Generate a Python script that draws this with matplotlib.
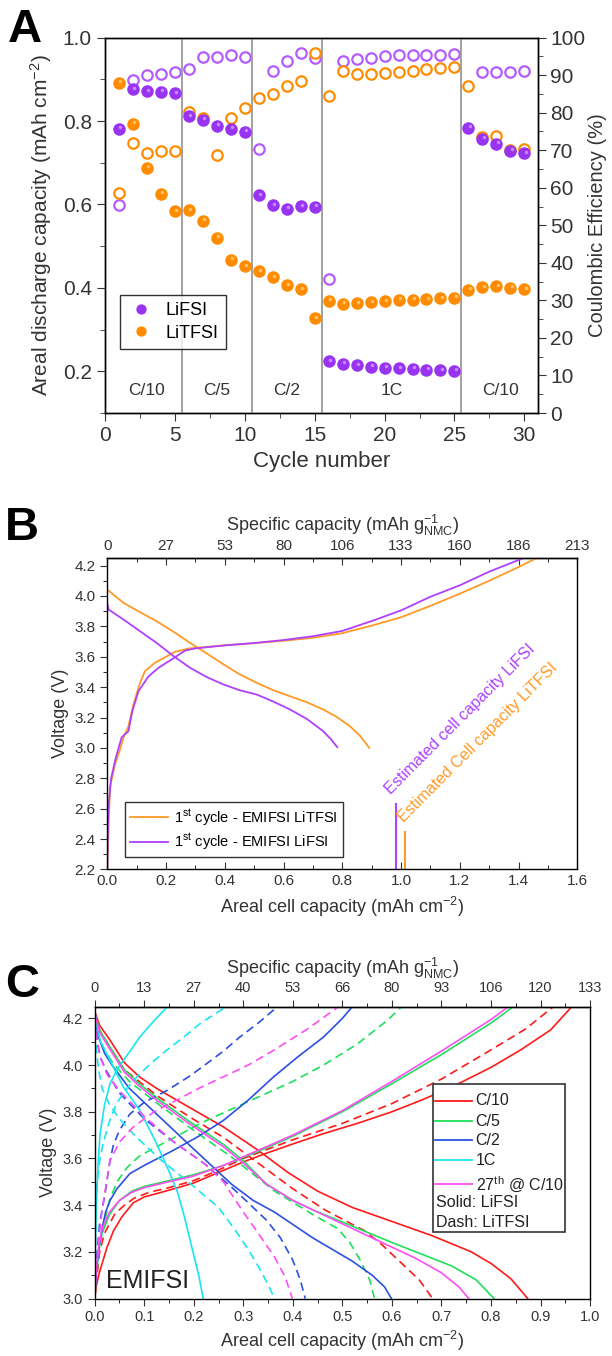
import numpy as np
import matplotlib
matplotlib.use('Agg')
import matplotlib.pyplot as plt
from matplotlib.patches import Rectangle
from matplotlib.ticker import MultipleLocator
from matplotlib.transforms import offset_copy

plt.rcParams['font.family'] = ['Liberation Sans', 'DejaVu Sans']
plt.rcParams['mathtext.fontset'] = 'custom'
plt.rcParams['mathtext.rm'] = 'Liberation Sans'
plt.rcParams['mathtext.it'] = 'Liberation Sans:italic'
plt.rcParams['mathtext.bf'] = 'Liberation Sans:bold'
plt.rcParams['axes.linewidth'] = 1.0

# ---------------- Panel A data (rate test) ----------------
cycles = list(range(1, 31))
lifsi_cap = [0.782, 0.876, 0.871, 0.870, 0.866, 0.811, 0.803, 0.789, 0.782, 0.774,
             0.622, 0.598, 0.590, 0.596, 0.594, 0.224, 0.218, 0.214, 0.211, 0.209,
             0.207, 0.206, 0.204, 0.202, 0.201, 0.784, 0.758, 0.745, 0.729, 0.723]
litfsi_cap = [0.892, 0.793, 0.688, 0.626, 0.584, 0.586, 0.561, 0.520, 0.467, 0.452,
              0.440, 0.425, 0.406, 0.397, 0.327, 0.369, 0.362, 0.363, 0.365, 0.368,
              0.371, 0.372, 0.373, 0.375, 0.376, 0.396, 0.401, 0.404, 0.400, 0.397]
lifsi_ce = [55.3, 88.7, 90.0, 90.3, 90.8, 91.5, 94.9, 94.8, 95.3, 94.9,
            70.3, 91.1, 93.7, 95.8, 94.5, 35.8, 93.7, 94.3, 94.5, 95.2,
            95.3, 95.3, 95.3, 95.3, 95.5, np.nan, 90.7, 90.9, 90.9, 91.0]
litfsi_ce = [58.5, 72.0, 69.2, 69.9, 69.8, 80.1, 78.5, 68.7, 78.6, 81.2,
             83.8, 85.0, 87.2, 88.3, 96.0, 84.5, 91.1, 90.2, 90.3, 90.5,
             90.7, 91.1, 91.5, 91.8, 92.1, 87.1, 73.4, 73.8, 70.0, 70.3]
rate_breaks = [5.5, 10.5, 15.5, 25.5]
rate_labels = ['C/10', 'C/5', 'C/2', '1C', 'C/10']
rate_label_x = [3.0, 8.0, 13.0, 20.5, 28.3]

# ---------------- Panel B data (1st cycle) ----------------
tfsi_ch_x = [0.0, 0.004, 0.009, 0.026, 0.045, 0.055, 0.072, 0.089, 0.11, 0.128, 0.162, 0.23, 0.276,
             0.4, 0.5, 0.6, 0.7, 0.8, 0.9, 1.0, 1.1, 1.2, 1.3, 1.4, 1.462]
tfsi_ch_v = [2.2, 2.45, 2.738, 2.89, 3.0, 3.067, 3.143, 3.286, 3.42, 3.505, 3.56, 3.632, 3.654,
             3.675, 3.69, 3.705, 3.725, 3.755, 3.805, 3.86, 3.935, 4.015, 4.10, 4.19, 4.25]
tfsi_dis_x = [0.0, 0.055, 0.11, 0.168, 0.225, 0.282, 0.34, 0.396, 0.45, 0.509, 0.565, 0.622,
              0.68, 0.735, 0.78, 0.826, 0.86, 0.892]
tfsi_dis_v = [4.042, 3.955, 3.895, 3.834, 3.765, 3.691, 3.62, 3.549, 3.485, 3.428, 3.38, 3.34,
              3.30, 3.253, 3.205, 3.143, 3.08, 3.0]
fsi_ch_x = [0.0, 0.003, 0.013, 0.029, 0.049, 0.072, 0.085, 0.106, 0.14, 0.174, 0.219, 0.265, 0.30,
            0.4, 0.5, 0.6, 0.7, 0.8, 0.9, 1.0, 1.1, 1.2, 1.3, 1.411]
fsi_ch_v = [2.2, 2.58, 2.80, 2.935, 3.07, 3.11, 3.24, 3.373, 3.47, 3.527, 3.582, 3.641, 3.655,
            3.675, 3.69, 3.71, 3.735, 3.77, 3.835, 3.905, 3.995, 4.07, 4.16, 4.245]
fsi_dis_x = [0.0, 0.005, 0.055, 0.11, 0.168, 0.225, 0.282, 0.34, 0.396, 0.45, 0.509, 0.565,
             0.622, 0.68, 0.735, 0.76, 0.783]
fsi_dis_v = [3.95, 3.91, 3.845, 3.77, 3.691, 3.605, 3.527, 3.465, 3.417, 3.38, 3.351, 3.305,
             3.253, 3.19, 3.11, 3.06, 3.005]
est_cap_fsi, est_top_fsi = 0.983, 2.64
est_cap_tfsi, est_top_tfsi = 1.013, 2.45
spec_labels_B = ['0', '27', '53', '80', '106', '133', '160', '186', '213']

# ---------------- Panel C data (rate curves, EMIFSI) ----------------
# C/10
c10_fsi_ch_x = [0.0, 0.003, 0.008, 0.015, 0.025, 0.038, 0.055, 0.078, 0.1, 0.126, 0.16, 0.2, 0.25, 0.3,
                0.35, 0.4, 0.46, 0.53, 0.6, 0.66, 0.72, 0.8, 0.86, 0.92, 0.963]
c10_fsi_ch_v = [3.0, 3.05, 3.1, 3.15, 3.22, 3.29, 3.35, 3.41, 3.435, 3.45, 3.47, 3.495, 3.54, 3.585,
                3.625, 3.662, 3.705, 3.75, 3.80, 3.85, 3.905, 3.99, 4.065, 4.15, 4.25]
c10_fsi_dis_x = [0.0, 0.01, 0.03, 0.06, 0.09, 0.125, 0.19, 0.26, 0.33, 0.39, 0.45, 0.52, 0.6, 0.68,
                 0.76, 0.8, 0.84, 0.874]
c10_fsi_dis_v = [4.23, 4.17, 4.11, 4.01, 3.95, 3.9, 3.82, 3.735, 3.635, 3.54, 3.46, 3.39, 3.33, 3.27,
                 3.2, 3.15, 3.085, 3.0]
c10_tfsi_ch_x = [0.0, 0.004, 0.01, 0.02, 0.04, 0.06, 0.08, 0.11, 0.15, 0.2, 0.25, 0.3, 0.4, 0.5, 0.6,
                 0.7, 0.8, 0.87, 0.926]
c10_tfsi_ch_v = [3.0, 3.08, 3.2, 3.28, 3.36, 3.4, 3.43, 3.455, 3.475, 3.505, 3.55, 3.6, 3.68, 3.75,
                 3.835, 3.94, 4.065, 4.155, 4.25]
c10_tfsi_dis_x = [0.0, 0.01, 0.03, 0.06, 0.125, 0.19, 0.26, 0.33, 0.4, 0.466, 0.5, 0.545, 0.58,
                  0.62, 0.655, 0.682]
c10_tfsi_dis_v = [4.22, 4.15, 4.08, 3.98, 3.87, 3.78, 3.69, 3.58, 3.47, 3.378, 3.34, 3.29, 3.23,
                  3.15, 3.08, 3.0]
# C/5
c5_fsi_ch_x = [0.0, 0.003, 0.008, 0.015, 0.03, 0.05, 0.075, 0.1, 0.15, 0.2, 0.26, 0.33, 0.4, 0.5,
               0.6, 0.7, 0.8, 0.845]
c5_fsi_ch_v = [3.0, 3.1, 3.2, 3.28, 3.36, 3.42, 3.46, 3.48, 3.505, 3.53, 3.57, 3.63, 3.695, 3.8,
               3.92, 4.045, 4.18, 4.25]
c5_fsi_dis_x = [0.0, 0.01, 0.03, 0.06, 0.09, 0.125, 0.19, 0.26, 0.3, 0.347, 0.4, 0.44, 0.52, 0.6,
                0.66, 0.72, 0.77, 0.806]
c5_fsi_dis_v = [4.22, 4.15, 4.08, 3.98, 3.92, 3.86, 3.76, 3.66, 3.59, 3.49, 3.42, 3.38, 3.31, 3.24,
                3.19, 3.14, 3.08, 3.0]
c5_tfsi_ch_x = [0.0, 0.004, 0.01, 0.02, 0.03, 0.045, 0.065, 0.09, 0.125, 0.17, 0.213, 0.27, 0.327,
                0.4, 0.462, 0.53, 0.59, 0.62]
c5_tfsi_ch_v = [3.0, 3.1, 3.22, 3.33, 3.42, 3.5, 3.56, 3.61, 3.65, 3.7, 3.75, 3.805, 3.86, 3.93,
                4.0, 4.09, 4.19, 4.25]
c5_tfsi_dis_x = [0.0, 0.008, 0.02, 0.04, 0.07, 0.1, 0.13, 0.2, 0.28, 0.363, 0.44, 0.49, 0.515,
                 0.537, 0.555, 0.565]
c5_tfsi_dis_v = [4.2, 4.12, 4.06, 4.0, 3.93, 3.88, 3.83, 3.72, 3.6, 3.46, 3.36, 3.3, 3.24, 3.16,
                 3.08, 3.0]
# C/2
c2_fsi_ch_x = [0.0, 0.002, 0.005, 0.01, 0.015, 0.022, 0.031, 0.045, 0.071, 0.1, 0.159, 0.21, 0.26,
               0.31, 0.361, 0.41, 0.462, 0.5, 0.52]
c2_fsi_ch_v = [3.0, 3.08, 3.15, 3.24, 3.3, 3.37, 3.42, 3.47, 3.535, 3.57, 3.635, 3.695, 3.763,
               3.85, 3.949, 4.035, 4.12, 4.2, 4.25]
c2_fsi_dis_x = [0.0, 0.008, 0.02, 0.035, 0.07, 0.1, 0.13, 0.2, 0.276, 0.32, 0.363, 0.44, 0.52,
                0.56, 0.585, 0.599]
c2_fsi_dis_v = [4.2, 4.12, 4.05, 4.0, 3.9, 3.84, 3.78, 3.64, 3.49, 3.42, 3.37, 3.26, 3.16, 3.1,
                3.05, 3.0]
c2_tfsi_ch_x = [0.0, 0.002, 0.005, 0.01, 0.021, 0.03, 0.038, 0.05, 0.071, 0.1, 0.145, 0.19, 0.226,
                0.26, 0.293, 0.33, 0.369]
c2_tfsi_ch_v = [3.0, 3.1, 3.2, 3.32, 3.45, 3.58, 3.66, 3.72, 3.79, 3.84, 3.89, 3.95, 4.006, 4.06,
                4.12, 4.18, 4.25]
c2_tfsi_dis_x = [0.0, 0.005, 0.012, 0.025, 0.05, 0.1, 0.16, 0.22, 0.28, 0.32, 0.347, 0.375, 0.4,
                 0.415, 0.425]
c2_tfsi_dis_v = [4.2, 4.1, 4.03, 3.97, 3.88, 3.77, 3.67, 3.58, 3.47, 3.39, 3.335, 3.26, 3.164,
                 3.08, 3.0]
# 1C
c1_fsi_ch_x = [0.0, 0.001, 0.002, 0.004, 0.007, 0.011, 0.02, 0.031, 0.045, 0.058, 0.075, 0.091,
               0.12, 0.147]
c1_fsi_ch_v = [3.0, 3.15, 3.3, 3.435, 3.58, 3.707, 3.83, 3.92, 3.98, 4.02, 4.07, 4.12, 4.19, 4.25]
c1_fsi_dis_x = [0.0, 0.004, 0.012, 0.031, 0.058, 0.091, 0.125, 0.152, 0.168, 0.18, 0.196, 0.21,
                0.219]
c1_fsi_dis_v = [4.235, 4.17, 4.1, 4.02, 3.906, 3.806, 3.664, 3.535, 3.45, 3.36, 3.22, 3.1, 3.0]
c1_tfsi_ch_x = [0.0, 0.001, 0.002, 0.004, 0.01, 0.017, 0.03, 0.044, 0.065, 0.085, 0.115, 0.145,
                0.18, 0.213, 0.24, 0.266]
c1_tfsi_ch_v = [3.0, 3.15, 3.3, 3.478, 3.59, 3.664, 3.76, 3.835, 3.9, 3.949, 4.01, 4.063, 4.12,
                4.178, 4.215, 4.25]
c1_tfsi_dis_x = [0.0, 0.003, 0.008, 0.015, 0.03, 0.05, 0.08, 0.13, 0.2, 0.25, 0.284, 0.31, 0.331,
                 0.35, 0.363]
c1_tfsi_dis_v = [4.2, 4.08, 3.98, 3.9, 3.83, 3.77, 3.7, 3.6, 3.48, 3.39, 3.292, 3.21, 3.135, 3.06,
                 3.0]
# 27th cycle back at C/10
c27_fsi_ch_x = [0.0, 0.003, 0.008, 0.015, 0.03, 0.05, 0.075, 0.1, 0.15, 0.2, 0.26, 0.33, 0.4, 0.5,
                0.6, 0.7, 0.8, 0.835]
c27_fsi_ch_v = [3.0, 3.12, 3.22, 3.3, 3.37, 3.42, 3.455, 3.475, 3.5, 3.525, 3.57, 3.635, 3.7,
                3.805, 3.93, 4.06, 4.195, 4.25]
c27_fsi_dis_x = [0.0, 0.01, 0.03, 0.06, 0.09, 0.125, 0.19, 0.26, 0.3, 0.347, 0.4, 0.44, 0.52, 0.6,
                 0.65, 0.7, 0.735, 0.755]
c27_fsi_dis_v = [4.22, 4.14, 4.07, 3.97, 3.91, 3.85, 3.75, 3.65, 3.58, 3.49, 3.42, 3.38, 3.3, 3.22,
                 3.17, 3.11, 3.05, 3.0]
c27_tfsi_ch_x = [0.0, 0.003, 0.008, 0.015, 0.031, 0.05, 0.078, 0.12, 0.166, 0.21, 0.26, 0.31,
                 0.361, 0.43, 0.492]
c27_tfsi_ch_v = [3.0, 3.12, 3.25, 3.38, 3.59, 3.67, 3.735, 3.8, 3.85, 3.9, 3.95, 4.0, 4.063, 4.155,
                 4.25]
c27_tfsi_dis_x = [0.0, 0.005, 0.012, 0.025, 0.05, 0.1, 0.16, 0.22, 0.26, 0.3, 0.33, 0.363, 0.385,
                  0.399]
c27_tfsi_dis_v = [4.2, 4.1, 4.03, 3.96, 3.89, 3.78, 3.67, 3.58, 3.5, 3.37, 3.28, 3.178, 3.09, 3.0]
rate_names_C = ['C/10', 'C/5', 'C/2', '1C', '27$^{\\rm th}$ @ C/10']
spec_labels_C = ['0', '13', '27', '40', '53', '66', '80', '93', '106', '120', '133']

# colours
PURPLE = '#9933f2'
PURPLE_HI = '#c58aff'
PURPLE_OPEN = '#b45cff'
ORANGE = '#ff8c00'
ORANGE_HI = '#ffc16b'
LINE_ORANGE = '#ff9a26'
LINE_PURPLE = '#b040ff'
RED, GREEN, BLUE, CYAN, MAGENTA = '#ff1a1a', '#1fe05a', '#2b50e0', '#19e6f0', '#ff4df5'

fig = plt.figure(figsize=(6.12, 13.56), dpi=100)

# =============== A ===============
axA = fig.add_axes([0.1716, 0.6954, 0.708, 0.2769])
axA2 = axA.twinx()
axA.set_zorder(axA2.get_zorder() + 1)
axA.patch.set_visible(False)

axA2.plot(cycles, lifsi_ce, 'o', ms=7.5, mfc='white', mec=PURPLE_OPEN, mew=1.6, ls='none')
axA2.plot(cycles, litfsi_ce, 'o', ms=7.5, mfc='white', mec=ORANGE, mew=1.6, ls='none')
axA.plot(cycles, lifsi_cap, 'o', ms=8, color=PURPLE, mec=PURPLE, ls='none', label='LiFSI')
axA.plot(cycles, litfsi_cap, 'o', ms=8, color=ORANGE, mec=ORANGE, ls='none', label='LiTFSI')
# small shine on the filled spheres
shine = offset_copy(axA.transData, fig=fig, x=1.5, y=1.5, units='dots')
axA.plot(cycles, lifsi_cap, 'o', ms=2.5, color=PURPLE_HI, mew=0, ls='none', transform=shine)
axA.plot(cycles, litfsi_cap, 'o', ms=2.5, color=ORANGE_HI, mew=0, ls='none', transform=shine)

for xv in rate_breaks:
    axA.axvline(xv, color='#9a9a9a', lw=1.3, zorder=0)
for lab, xc in zip(rate_labels, rate_label_x):
    axA.text(xc, 0.155, lab, ha='center', va='center', fontsize=12.5, color='#333333')

axA.set_xlim(0, 31)
axA.set_ylim(0.1, 1.0)
axA2.set_ylim(0, 100)
axA.xaxis.set_major_locator(MultipleLocator(5))
axA.xaxis.set_minor_locator(MultipleLocator(2.5))
axA.yaxis.set_major_locator(MultipleLocator(0.2))
axA.yaxis.set_minor_locator(MultipleLocator(0.1))
axA2.yaxis.set_major_locator(MultipleLocator(10))
axA2.yaxis.set_minor_locator(MultipleLocator(5))
axA.tick_params(axis='both', which='major', labelsize=15, length=6, direction='out', colors='#333333')
axA.tick_params(axis='both', which='minor', length=3.5, direction='out', color='#333333')
axA2.tick_params(axis='y', which='major', labelsize=15, length=6, direction='out', colors='#333333',
                 pad=2.5)
axA2.tick_params(axis='y', which='minor', length=3.5, direction='out', color='#333333')
axA.set_xlabel('Cycle number', fontsize=16, color='#333333', labelpad=4)
axA.set_ylabel('Areal discharge capacity (mAh cm$^{-2}$)', fontsize=15, color='#333333', labelpad=6)
axA2.set_ylabel('Coulombic Efficiency (%)', fontsize=14.5, color='#333333', labelpad=2)
legA = axA.legend(loc='lower left', bbox_to_anchor=(0.035, 0.171), borderaxespad=0, fontsize=13,
                  frameon=True, fancybox=False, edgecolor='black', handletextpad=0.6,
                  handlelength=1.5, borderpad=0.4, labelspacing=0.3, markerscale=0.8)
legA.get_frame().set_linewidth(1.0)

# =============== B ===============
axB = fig.add_axes([0.1753, 0.3588, 0.768, 0.2297])
axB.plot(tfsi_ch_x, tfsi_ch_v, color=LINE_ORANGE, lw=1.3, label='1$^{\\rm st}$ cycle - EMIFSI LiTFSI')
axB.plot(tfsi_dis_x, tfsi_dis_v, color=LINE_ORANGE, lw=1.3)
axB.plot(fsi_ch_x, fsi_ch_v, color=LINE_PURPLE, lw=1.3, label='1$^{\\rm st}$ cycle - EMIFSI LiFSI')
axB.plot(fsi_dis_x, fsi_dis_v, color=LINE_PURPLE, lw=1.3)
axB.vlines(est_cap_fsi, 2.2, est_top_fsi, color=LINE_PURPLE, lw=1.5)
axB.vlines(est_cap_tfsi, 2.2, est_top_tfsi, color=LINE_ORANGE, lw=1.5)
axB.text(est_cap_fsi - 0.01, est_top_fsi + 0.04, 'Estimated cell capacity LiFSI', color=LINE_PURPLE,
         rotation=45, rotation_mode='anchor', ha='left', va='bottom', fontsize=11.5)
axB.text(est_cap_tfsi + 0.005, est_top_tfsi + 0.04, 'Estimated Cell capacity LiTFSI', color=LINE_ORANGE,
         rotation=45, rotation_mode='anchor', ha='left', va='bottom', fontsize=11.5)

axB.set_xlim(0, 1.6)
axB.set_ylim(2.2, 4.25)
axB.xaxis.set_major_locator(MultipleLocator(0.2))
axB.xaxis.set_minor_locator(MultipleLocator(0.1))
axB.yaxis.set_major_locator(MultipleLocator(0.2))
axB.yaxis.set_minor_locator(MultipleLocator(0.1))
axB.tick_params(axis='x', which='major', labelsize=11, length=5, direction='in', colors='#333333')
axB.tick_params(axis='x', which='minor', length=3, direction='in')
axB.tick_params(axis='y', which='major', labelsize=11, length=5, direction='out', colors='#333333')
axB.tick_params(axis='y', which='minor', length=3, direction='out')
axB.set_xlabel('Areal cell capacity (mAh cm$^{-2}$)', fontsize=13, color='#333333', labelpad=5)
axB.set_ylabel('Voltage (V)', fontsize=13, color='#333333', labelpad=4)
secB = axB.secondary_xaxis('top')
secB.set_xticks(np.arange(0, 1.61, 0.2), labels=spec_labels_B)
secB.xaxis.set_minor_locator(MultipleLocator(0.1))
secB.tick_params(axis='x', which='major', labelsize=11, length=5, direction='in', colors='#333333')
secB.tick_params(axis='x', which='minor', length=3, direction='in')
secB.set_xlabel('Specific capacity (mAh g$^{-1}_{\\rm NMC}$)', fontsize=13, color='#333333', labelpad=6)
legB = axB.legend(loc='lower left', bbox_to_anchor=(0.0377, 0.039), borderaxespad=0, fontsize=10.5,
                  frameon=True, fancybox=False, edgecolor='black', handlelength=2.6,
                  handletextpad=0.4, borderpad=0.35, labelspacing=0.25)
legB.get_frame().set_linewidth(1.0)

# =============== C ===============
axC = fig.add_axes([0.1547, 0.0424, 0.8095, 0.2152])
dash = (0, (5, 3))
curves_C = [
    (c10_fsi_ch_x, c10_fsi_ch_v, c10_fsi_dis_x, c10_fsi_dis_v, c10_tfsi_ch_x, c10_tfsi_ch_v, c10_tfsi_dis_x, c10_tfsi_dis_v, RED),
    (c5_fsi_ch_x, c5_fsi_ch_v, c5_fsi_dis_x, c5_fsi_dis_v, c5_tfsi_ch_x, c5_tfsi_ch_v, c5_tfsi_dis_x, c5_tfsi_dis_v, GREEN),
    (c2_fsi_ch_x, c2_fsi_ch_v, c2_fsi_dis_x, c2_fsi_dis_v, c2_tfsi_ch_x, c2_tfsi_ch_v, c2_tfsi_dis_x, c2_tfsi_dis_v, BLUE),
    (c1_fsi_ch_x, c1_fsi_ch_v, c1_fsi_dis_x, c1_fsi_dis_v, c1_tfsi_ch_x, c1_tfsi_ch_v, c1_tfsi_dis_x, c1_tfsi_dis_v, CYAN),
    (c27_fsi_ch_x, c27_fsi_ch_v, c27_fsi_dis_x, c27_fsi_dis_v, c27_tfsi_ch_x, c27_tfsi_ch_v, c27_tfsi_dis_x, c27_tfsi_dis_v, MAGENTA),
]
for fcx, fcv, fdx, fdv, tcx, tcv, tdx, tdv, col in curves_C:
    axC.plot(tcx, tcv, color=col, lw=1.2, ls=dash)
    axC.plot(tdx, tdv, color=col, lw=1.2, ls=dash)
    axC.plot(fcx, fcv, color=col, lw=1.2)
    axC.plot(fdx, fdv, color=col, lw=1.2)

axC.text(0.022, 3.045, 'EMIFSI', fontsize=18, ha='left', va='baseline', color='#222222')

axC.set_xlim(0, 1.0)
axC.set_ylim(3.0, 4.25)
axC.xaxis.set_major_locator(MultipleLocator(0.1))
axC.xaxis.set_minor_locator(MultipleLocator(0.05))
axC.yaxis.set_major_locator(MultipleLocator(0.2))
axC.yaxis.set_minor_locator(MultipleLocator(0.1))
axC.tick_params(axis='both', which='major', labelsize=10.5, length=5, direction='out', colors='#333333')
axC.tick_params(axis='both', which='minor', length=3, direction='out')
axC.set_xlabel('Areal cell capacity (mAh cm$^{-2}$)', fontsize=13, color='#333333', labelpad=3)
axC.set_ylabel('Voltage (V)', fontsize=13, color='#333333', labelpad=4)
secC = axC.secondary_xaxis('top')
secC.set_xticks(np.arange(0, 1.01, 0.1), labels=spec_labels_C)
secC.xaxis.set_minor_locator(MultipleLocator(0.05))
secC.tick_params(axis='x', which='major', labelsize=10.5, length=5, direction='out', colors='#333333')
secC.tick_params(axis='x', which='minor', length=3, direction='out')
secC.set_xlabel('Specific capacity (mAh g$^{-1}_{\\rm NMC}$)', fontsize=13, color='#333333', labelpad=5)

# hand-made legend box for C (two text-only rows at the bottom)
box = Rectangle((0.682, 0.228), 0.2675, 0.507, transform=axC.transAxes, fill=True,
                facecolor='white', edgecolor='#333333', lw=1.2, zorder=5)
axC.add_patch(box)
row_y = [0.677, 0.608, 0.543, 0.474, 0.394]
for name, col, yy in zip(rate_names_C, [RED, GREEN, BLUE, CYAN, MAGENTA], row_y):
    axC.plot([0.687, 0.762], [yy, yy], color=col, lw=1.3, transform=axC.transAxes, zorder=6)
    axC.text(0.769, yy, name, transform=axC.transAxes, fontsize=11.5, va='center', ha='left', zorder=6,
             color='#222222')
axC.text(0.689, 0.328, 'Solid: LiFSI', transform=axC.transAxes, fontsize=11.5, va='center', zorder=6,
         color='#222222')
axC.text(0.689, 0.261, 'Dash: LiTFSI', transform=axC.transAxes, fontsize=11.5, va='center', zorder=6,
         color='#222222')

# panel letters
fig.text(0.013, 0.994, 'A', fontsize=34, fontweight='bold', va='top', ha='left')
fig.text(0.008, 0.627, 'B', fontsize=34, fontweight='bold', va='top', ha='left')
fig.text(0.008, 0.290, 'C', fontsize=34, fontweight='bold', va='top', ha='left')

fig.savefig('out.png', dpi=100)
